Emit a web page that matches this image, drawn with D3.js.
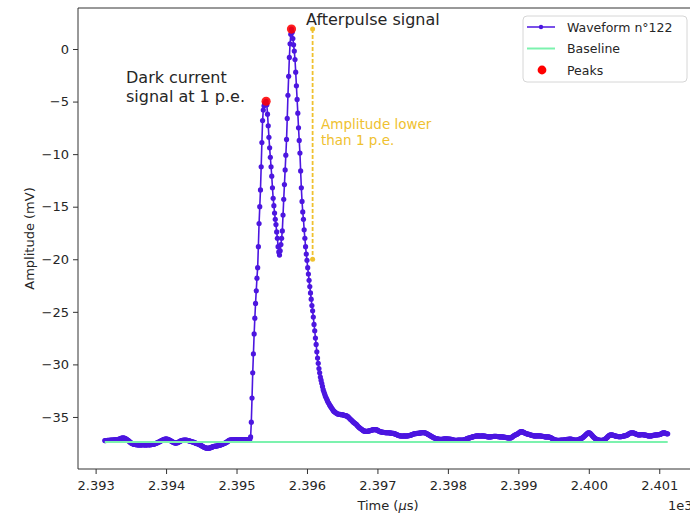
<!DOCTYPE html>
<html>
<head>
<meta charset="utf-8">
<script src="https://cdn.jsdelivr.net/npm/d3@7/dist/d3.min.js"></script>
<style>
  html, body { margin: 0; padding: 0; background: #ffffff; }
  svg { display: block; font-family: "DejaVu Sans", sans-serif; }
</style>
</head>
<body>
<svg id="chart" width="690" height="516"></svg>
<script>
// ---------------- DATA ----------------
const sampleStart = 2393.13;   // µs, time of first sample
const sampleStep = 0.01;       // µs between samples
const amplitude = [
-37.25,-37.25,-37.24,-37.24,-37.23,-37.23,-37.22,-37.22,-37.21,-37.2,
-37.2,-37.19,-37.19,-37.18,-37.18,-37.17,-37.17,-37.16,-37.15,-37.14,
-37.12,-37.1,-37.07,-37.04,-37.02,-37.0,-36.99,-37.0,-37.02,-37.05,
-37.09,-37.13,-37.17,-37.22,-37.28,-37.34,-37.4,-37.45,-37.5,-37.53,
-37.56,-37.59,-37.61,-37.62,-37.63,-37.64,-37.65,-37.65,-37.65,-37.66,
-37.66,-37.66,-37.65,-37.65,-37.64,-37.64,-37.65,-37.66,-37.66,-37.65,
-37.65,-37.64,-37.64,-37.65,-37.65,-37.64,-37.63,-37.62,-37.61,-37.6,
-37.58,-37.56,-37.53,-37.5,-37.47,-37.44,-37.41,-37.37,-37.34,-37.3,
-37.27,-37.23,-37.2,-37.17,-37.14,-37.12,-37.1,-37.09,-37.1,-37.12,
-37.14,-37.17,-37.2,-37.24,-37.28,-37.32,-37.36,-37.4,-37.44,-37.46,
-37.48,-37.48,-37.47,-37.45,-37.42,-37.38,-37.34,-37.3,-37.27,-37.25,
-37.23,-37.22,-37.21,-37.2,-37.2,-37.2,-37.21,-37.22,-37.24,-37.26,
-37.28,-37.3,-37.32,-37.34,-37.36,-37.38,-37.4,-37.43,-37.46,-37.49,
-37.52,-37.54,-37.56,-37.58,-37.61,-37.64,-37.68,-37.72,-37.76,-37.8,
-37.84,-37.88,-37.91,-37.94,-37.96,-37.97,-37.98,-37.98,-37.97,-37.95,
-37.93,-37.9,-37.87,-37.84,-37.82,-37.8,-37.79,-37.78,-37.77,-37.76,
-37.74,-37.72,-37.7,-37.69,-37.67,-37.65,-37.62,-37.59,-37.56,-37.53,
-37.5,-37.47,-37.44,-37.4,-37.35,-37.3,-37.25,-37.21,-37.19,-37.18,
-37.18,-37.17,-37.17,-37.17,-37.17,-37.16,-37.16,-37.16,-37.17,-37.17,
-37.17,-37.17,-37.16,-37.16,-37.16,-37.17,-37.17,-37.17,-37.17,-37.16,
-37.16,-37.16,-37.16,-37.17,-37.17,-37.16,-37.1,-36.9,-35.5,-33.2,
-30.8,-29.0,-27.1,-25.6,-24.2,-23.0,-21.8,-20.8,-18.8,-16.6,
-15.0,-13.4,-11.2,-8.9,-6.8,-5.8,-5.4,-5.2,-5.1,-4.97,
-5.3,-6.2,-7.3,-8.4,-9.4,-10.3,-11.2,-12.1,-13.2,-14.2,
-14.9,-15.6,-16.2,-16.7,-17.4,-18.0,-18.8,-19.3,-19.6,-19.2,
-18.6,-18.0,-17.3,-15.8,-14.3,-12.9,-11.5,-10.1,-8.6,-6.6,
-4.4,-2.6,-0.8,0.5,1.4,1.9,1.6,1.0,0.4,-0.2,
-1.0,-2.2,-3.5,-4.8,-6.1,-7.5,-8.7,-9.9,-11.6,-13.2,
-14.5,-15.5,-16.2,-17.2,-18.0,-18.8,-19.5,-20.1,-20.8,-21.4,
-22.0,-22.6,-23.2,-23.8,-24.4,-24.9,-25.5,-26.2,-26.8,-27.5,
-28.1,-28.8,-29.4,-29.9,-30.4,-30.8,-31.2,-31.5,-31.8,-32.1,
-32.4,-32.6,-32.8,-33.0,-33.15,-33.3,-33.45,-33.6,-33.7,-33.85,
-33.95,-34.05,-34.15,-34.25,-34.35,-34.45,-34.5,-34.55,-34.6,-34.65,
-34.7,-34.72,-34.74,-34.75,-34.76,-34.77,-34.78,-34.79,-34.8,-34.82,
-34.84,-34.86,-34.88,-34.9,-34.93,-34.97,-35.03,-35.1,-35.17,-35.24,
-35.3,-35.37,-35.44,-35.5,-35.56,-35.6,-35.65,-35.7,-35.78,-35.86,
-35.93,-36.0,-36.05,-36.1,-36.15,-36.2,-36.25,-36.3,-36.33,-36.35,
-36.38,-36.38,-36.37,-36.36,-36.35,-36.33,-36.31,-36.29,-36.27,-36.25,
-36.23,-36.21,-36.2,-36.2,-36.2,-36.21,-36.23,-36.26,-36.3,-36.34,
-36.38,-36.4,-36.42,-36.44,-36.45,-36.46,-36.47,-36.48,-36.49,-36.5,
-36.5,-36.5,-36.5,-36.5,-36.51,-36.52,-36.53,-36.54,-36.55,-36.56,
-36.57,-36.59,-36.61,-36.64,-36.67,-36.7,-36.73,-36.76,-36.78,-36.79,
-36.8,-36.81,-36.81,-36.81,-36.8,-36.8,-36.8,-36.81,-36.81,-36.8,
-36.79,-36.78,-36.77,-36.76,-36.74,-36.71,-36.68,-36.65,-36.62,-36.6,
-36.59,-36.58,-36.58,-36.57,-36.56,-36.55,-36.54,-36.53,-36.52,-36.51,
-36.5,-36.49,-36.49,-36.49,-36.5,-36.52,-36.55,-36.58,-36.62,-36.66,
-36.7,-36.74,-36.78,-36.82,-36.86,-36.9,-36.94,-36.97,-37.0,-37.03,
-37.05,-37.07,-37.09,-37.1,-37.11,-37.12,-37.12,-37.12,-37.12,-37.12,
-37.11,-37.1,-37.09,-37.08,-37.08,-37.08,-37.09,-37.1,-37.1,-37.1,
-37.11,-37.12,-37.14,-37.16,-37.18,-37.2,-37.21,-37.22,-37.22,-37.22,
-37.22,-37.21,-37.2,-37.19,-37.19,-37.19,-37.2,-37.2,-37.2,-37.19,
-37.17,-37.15,-37.12,-37.1,-37.07,-37.04,-37.02,-37.0,-36.98,-36.96,
-36.94,-36.92,-36.9,-36.88,-36.86,-36.84,-36.82,-36.81,-36.8,-36.8,
-36.8,-36.8,-36.81,-36.81,-36.81,-36.8,-36.8,-36.8,-36.81,-36.82,
-36.83,-36.85,-36.87,-36.88,-36.89,-36.9,-36.9,-36.9,-36.89,-36.88,
-36.87,-36.86,-36.85,-36.84,-36.84,-36.85,-36.85,-36.86,-36.87,-36.88,
-36.89,-36.89,-36.9,-36.9,-36.9,-36.9,-36.91,-36.92,-36.93,-36.95,
-36.96,-36.97,-36.98,-36.99,-37.0,-37.0,-36.99,-36.96,-36.92,-36.87,
-36.82,-36.77,-36.73,-36.7,-36.67,-36.64,-36.6,-36.56,-36.5,-36.45,
-36.42,-36.4,-36.4,-36.42,-36.45,-36.48,-36.52,-36.55,-36.58,-36.6,
-36.62,-36.64,-36.66,-36.68,-36.7,-36.72,-36.74,-36.76,-36.78,-36.79,
-36.8,-36.8,-36.8,-36.8,-36.79,-36.79,-36.79,-36.8,-36.8,-36.81,
-36.82,-36.84,-36.85,-36.86,-36.88,-36.89,-36.9,-36.9,-36.9,-36.9,
-36.9,-36.91,-36.93,-36.96,-37.0,-37.04,-37.08,-37.12,-37.15,-37.18,
-37.2,-37.21,-37.22,-37.22,-37.22,-37.22,-37.22,-37.21,-37.21,-37.2,
-37.2,-37.19,-37.18,-37.17,-37.16,-37.15,-37.14,-37.13,-37.12,-37.11,
-37.1,-37.1,-37.11,-37.13,-37.15,-37.17,-37.19,-37.2,-37.21,-37.21,
-37.2,-37.19,-37.17,-37.14,-37.11,-37.08,-37.05,-37.02,-36.98,-36.93,
-36.87,-36.81,-36.75,-36.68,-36.62,-36.56,-36.52,-36.5,-36.52,-36.56,
-36.62,-36.7,-36.78,-36.86,-36.92,-36.98,-37.04,-37.09,-37.13,-37.16,
-37.18,-37.2,-37.21,-37.22,-37.22,-37.22,-37.22,-37.21,-37.19,-37.16,
-37.12,-37.07,-37.01,-36.95,-36.88,-36.82,-36.76,-36.72,-36.7,-36.7,
-36.71,-36.73,-36.75,-36.77,-36.79,-36.81,-36.83,-36.85,-36.86,-36.87,
-36.88,-36.88,-36.88,-36.87,-36.86,-36.84,-36.82,-36.8,-36.79,-36.78,
-36.76,-36.73,-36.69,-36.65,-36.6,-36.56,-36.53,-36.51,-36.5,-36.5,
-36.51,-36.53,-36.56,-36.59,-36.62,-36.65,-36.68,-36.7,-36.71,-36.71,
-36.7,-36.69,-36.68,-36.68,-36.69,-36.7,-36.71,-36.72,-36.73,-36.75,
-36.77,-36.79,-36.8,-36.81,-36.81,-36.8,-36.79,-36.78,-36.76,-36.75,
-36.73,-36.72,-36.71,-36.7,-36.7,-36.7,-36.69,-36.68,-36.66,-36.63,
-36.6,-36.56,-36.52,-36.5,-36.5,-36.52,-36.55,-36.58,-36.6,-36.6
];
const peakIndices = [229, 265];
const baselineLevel = -37.38;                 // mV
const gapTime = 2396.08;                      // µs, x of the dashed annotation
const gapRange = [1.9, -20.0];                // mV, ends of the dashed annotation
const xTicks = [2393, 2394, 2395, 2396, 2397, 2398, 2399, 2400, 2401];
const yTicks = [0, -5, -10, -15, -20, -25, -30, -35];
const legendLabels = ["Waveform n°122", "Baseline", "Peaks"];
const xDomain = [2392.75, 2401.55];
const yDomain = [-39.95, 3.9];

// ---------------- STYLE ----------------
const waveColor = "#4c16e0";
const baseColor = "#7cf2ae";
const peakColor = "#ff0000";
const gold = "#efc12f";
const textColor = "#262626";

const svg = d3.select("#chart");
svg.append("rect").attr("width", 690).attr("height", 516).attr("fill", "#fff");

const plot = { left: 78, right: 698, top: 8, bottom: 469 };
const x = d3.scaleLinear().domain(xDomain).range([plot.left, plot.right]);
const y = d3.scaleLinear().domain(yDomain).range([plot.bottom, plot.top]);

const samples = amplitude.map((v, i) => ({ t: sampleStart + i * sampleStep, v }));

// axes
const fmtMinus = d => (d < 0 ? "\u2212" + Math.abs(d) : String(d));
const xAxis = d3.axisBottom(x).tickValues(xTicks).tickSize(5).tickPadding(4)
  .tickFormat(d => (d / 1000).toFixed(3));
const yAxis = d3.axisLeft(y).tickValues(yTicks).tickSize(5).tickPadding(4)
  .tickFormat(fmtMinus);

const gx = svg.append("g").attr("transform", `translate(0,${plot.bottom})`).call(xAxis);
const gy = svg.append("g").attr("transform", `translate(${plot.left},0)`).call(yAxis);
[gx, gy].forEach(g => {
  g.select(".domain").remove();
  g.selectAll(".tick line").attr("stroke", "#333").attr("stroke-width", 1);
  g.selectAll(".tick text").attr("fill", textColor)
    .style("font-family", "DejaVu Sans").style("font-size", "13px");
});
gx.selectAll(".tick text").attr("dy", "0.9em");

// spines (right spine lies outside the visible canvas)
svg.append("path")
  .attr("d", `M${plot.right},${plot.top}H${plot.left}V${plot.bottom}H${plot.right}`)
  .attr("fill", "none").attr("stroke", "#333").attr("stroke-width", 1);

// axis labels
const xl = svg.append("text")
  .attr("x", (plot.left + plot.right) / 2).attr("y", 510)
  .attr("text-anchor", "middle").attr("fill", textColor).style("font-size", "13px");
xl.append("tspan").text("Time (");
xl.append("tspan").style("font-style", "italic").text("\u03bc");
xl.append("tspan").text("s)");

// offset label, partly beyond the right edge as in the reference
svg.append("text").attr("x", 668).attr("y", 510).attr("fill", textColor)
  .style("font-size", "13px").text("1e3");

svg.append("text")
  .attr("transform", `translate(34,${(plot.top + plot.bottom) / 2}) rotate(-90)`)
  .attr("text-anchor", "middle").attr("fill", textColor).style("font-size", "13px")
  .text("Amplitude (mV)");

// waveform
const plotArea = svg.append("g");
const line = d3.line().x(d => x(d.t)).y(d => y(d.v));
plotArea.append("path").datum(samples).attr("d", line)
  .attr("fill", "none").attr("stroke", waveColor).attr("stroke-width", 1.6)
  .attr("stroke-linejoin", "round");
plotArea.append("g").selectAll("circle").data(samples).join("circle")
  .attr("cx", d => x(d.t)).attr("cy", d => y(d.v)).attr("r", 2.6)
  .attr("fill", waveColor);

// baseline
const tExtent = d3.extent(samples, d => d.t);
plotArea.append("line")
  .attr("x1", x(tExtent[0])).attr("x2", x(tExtent[1]))
  .attr("y1", y(baselineLevel)).attr("y2", y(baselineLevel))
  .attr("stroke", baseColor).attr("stroke-width", 2.2);

// peaks
plotArea.append("g").selectAll("circle").data(peakIndices.map(i => samples[i])).join("circle")
  .attr("cx", d => x(d.t)).attr("cy", d => y(d.v)).attr("r", 4.6)
  .attr("fill", peakColor).attr("fill-opacity", 0.88);

// amplitude annotation
plotArea.append("line")
  .attr("x1", x(gapTime)).attr("x2", x(gapTime))
  .attr("y1", y(gapRange[0])).attr("y2", y(gapRange[1]))
  .attr("stroke", gold).attr("stroke-width", 1.8).attr("stroke-dasharray", "4,2");
plotArea.append("g").selectAll("circle").data(gapRange).join("circle")
  .attr("cx", x(gapTime)).attr("cy", d => y(d)).attr("r", 2.5).attr("fill", gold);

const gt = svg.append("text").attr("fill", gold).style("font-size", "13.5px");
gt.append("tspan").attr("x", 321).attr("y", 129).text("Amplitude lower");
gt.append("tspan").attr("x", 321).attr("y", 145).text("than 1 p.e.");

// text annotations
svg.append("text").attr("x", 306).attr("y", 25).attr("fill", textColor)
  .style("font-size", "16px").text("Afterpulse signal");
const dc = svg.append("text").attr("fill", textColor).style("font-size", "16px");
dc.append("tspan").attr("x", 126).attr("y", 83).text("Dark current");
dc.append("tspan").attr("x", 126).attr("y", 102).text("signal at 1 p.e.");

// legend
const lg = svg.append("g");
lg.append("rect").attr("x", 523).attr("y", 16).attr("width", 164).attr("height", 66)
  .attr("rx", 4).attr("fill", "#fff").attr("fill-opacity", 0.85)
  .attr("stroke", "#d6d6d6").attr("stroke-width", 1);
const rowsY = [27, 48.5, 70];
lg.append("line").attr("x1", 527).attr("x2", 555).attr("y1", rowsY[0]).attr("y2", rowsY[0])
  .attr("stroke", waveColor).attr("stroke-width", 1.5);
lg.append("circle").attr("cx", 541).attr("cy", rowsY[0]).attr("r", 2.2).attr("fill", waveColor);
lg.append("line").attr("x1", 527).attr("x2", 555).attr("y1", rowsY[1]).attr("y2", rowsY[1])
  .attr("stroke", baseColor).attr("stroke-width", 2);
lg.append("circle").attr("cx", 542).attr("cy", rowsY[2]).attr("r", 4.4).attr("fill", peakColor);
lg.selectAll("text.lab").data(legendLabels).join("text").attr("class", "lab")
  .attr("x", 567).attr("y", (d, i) => rowsY[i] + 4.5)
  .attr("fill", textColor).style("font-size", "12.5px").text(d => d);
</script>
</body>
</html>
